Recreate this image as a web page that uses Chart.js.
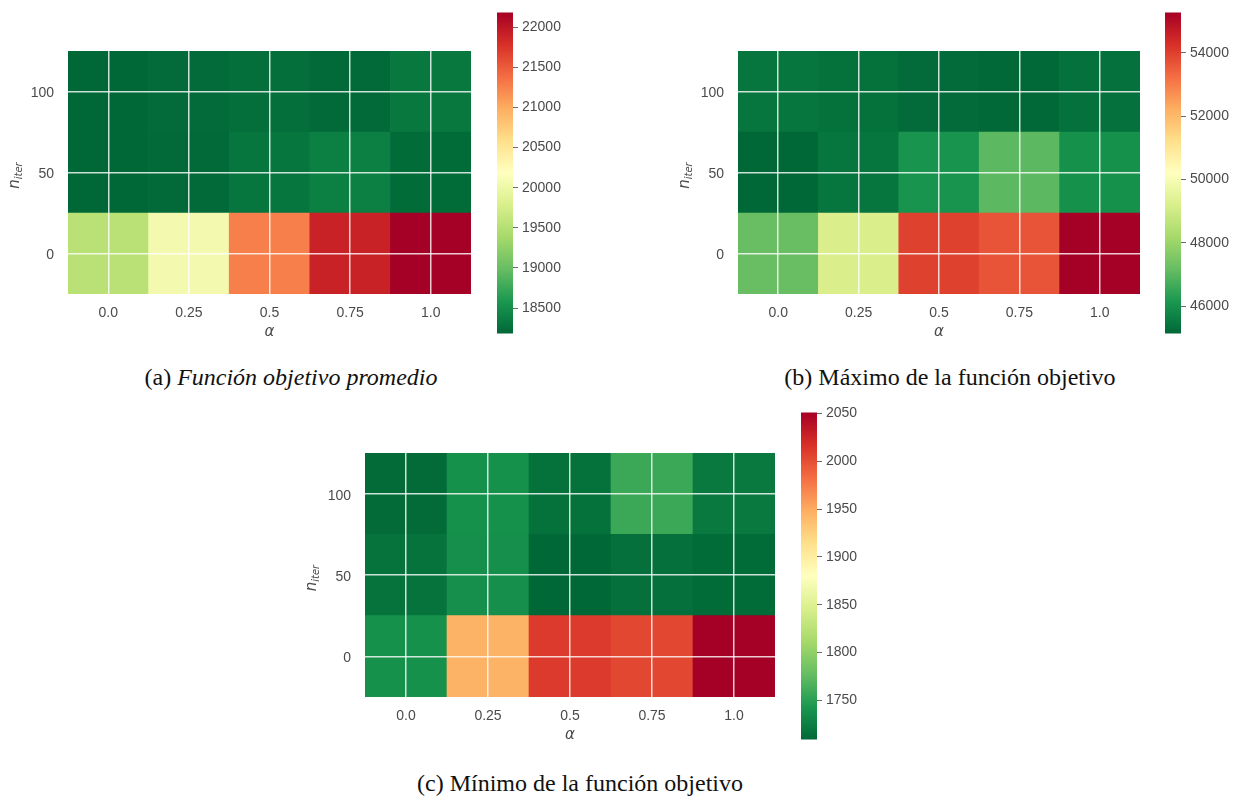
<!DOCTYPE html>
<html>
<head>
<meta charset="utf-8">
<script src="https://cdn.jsdelivr.net/npm/chart.js@4.4.1/dist/chart.umd.min.js"></script>
<style>
  body { margin: 0; background: #fff; width: 1241px; height: 796px; position: relative; overflow: hidden; }
  canvas { position: absolute; }
  .cap { position: absolute; font-family: "Liberation Serif", "Times New Roman", serif; font-size: 24px;
         line-height: 26px; color: #111; white-space: nowrap; transform: translateX(-50%); }
</style>
</head>
<body>
<canvas id="hmAvg" width="490" height="350" style="left:0;top:0"></canvas>
<canvas id="cbAvg" width="90" height="346" style="left:497px;top:0"></canvas>
<canvas id="hmMax" width="490" height="350" style="left:670px;top:0"></canvas>
<canvas id="cbMax" width="76" height="346" style="left:1165px;top:0"></canvas>
<canvas id="hmMin" width="490" height="350" style="left:297px;top:400px"></canvas>
<canvas id="cbMin" width="90" height="352" style="left:801px;top:400px"></canvas>

<div class="cap" style="left:291px;top:364px">(a) <i>Función objetivo promedio</i></div>
<div class="cap" style="left:950px;top:364px">(b) Máximo de la función objetivo</div>
<div class="cap" style="left:580px;top:770px">(c) Mínimo de la función objetivo</div>

<script>
// Categories
const alphaLabels = ['0.0', '0.25', '0.5', '0.75', '1.0'];
const iterLabels = ['0', '50', '100'];

// Average objective value, one array per n_iter row (alpha = 0 .. 1)
const avgIter0   = [19530, 20060, 21270, 21900, 22184];
const avgIter50  = [18182, 18200, 18290, 18370, 18215];
const avgIter100 = [18185, 18210, 18240, 18200, 18315];

// Maximum objective value
const maxIter0   = [47200, 49210, 53975, 53660, 55271];
const maxIter50  = [45132, 45400, 46060, 47040, 46000];
const maxIter100 = [45420, 45335, 45200, 45150, 45330];

// Minimum objective value
const minIter0   = [1738, 1945, 2011, 2004, 2051];
const minIter50  = [1717, 1737, 1709, 1715, 1712];
const minIter100 = [1711, 1738, 1716, 1758, 1721];

// Colorbar tick labels
const cbTicksAvg = [18500, 19000, 19500, 20000, 20500, 21000, 21500, 22000];
const cbTicksMax = [46000, 48000, 50000, 52000, 54000];
const cbTicksMin = [1750, 1800, 1850, 1900, 1950, 2000, 2050];

// RdYlGn reversed: green (low) -> yellow -> red (high)
const RDYLGN_R = ['#006837', '#1a9850', '#66bd63', '#a6d96a', '#d9ef8b', '#ffffbf',
                  '#fee08b', '#fdae61', '#f46d43', '#d73027', '#a50026'];
const hex = h => [1, 3, 5].map(i => parseInt(h.slice(i, i + 2), 16));
function cmap(t) {
  t = Math.max(0, Math.min(1, t));
  const p = t * (RDYLGN_R.length - 1);
  const i = Math.min(Math.floor(p), RDYLGN_R.length - 2);
  const f = p - i;
  const a = hex(RDYLGN_R[i]), b = hex(RDYLGN_R[i + 1]);
  const c = a.map((v, k) => Math.round(v + (b[k] - v) * f));
  return `rgb(${c[0]},${c[1]},${c[2]})`;
}

const TEXT = '#4a4a4a';
const TICK_FONT = { family: '"Liberation Sans", Arial, sans-serif', size: 14 };
const GRID = 'rgba(255,255,255,0.8)';

// Axis titles: italic alpha below, rotated n_iter (with subscript) on the left
const axisTitles = {
  id: 'axisTitles',
  afterDraw(chart) {
    const { ctx, chartArea: a } = chart;
    ctx.save();
    ctx.fillStyle = TEXT;
    ctx.font = 'italic 15px "DejaVu Sans", sans-serif';
    ctx.textAlign = 'center';
    ctx.textBaseline = 'middle';
    ctx.fillText('α', (a.left + a.right) / 2, a.bottom + 38);

    ctx.translate(a.left - 54, (a.top + a.bottom) / 2 + 3);
    ctx.rotate(-Math.PI / 2);
    const nFont = 'italic 15px "DejaVu Sans", sans-serif';
    const sFont = 'italic 10px "DejaVu Sans", sans-serif';
    ctx.font = nFont; const wn = ctx.measureText('n').width;
    ctx.font = sFont; const ws = ctx.measureText('iter').width;
    const x0 = -(wn + ws) / 2;
    ctx.textAlign = 'left';
    ctx.textBaseline = 'alphabetic';
    ctx.font = nFont; ctx.fillText('n', x0, 5);
    ctx.font = sFont; ctx.fillText('iter', x0 + wn, 8);
    ctx.restore();
  }
};

function heatmap(id, rows, box) {
  const all = rows.flat();
  const vmin = Math.min(...all), vmax = Math.max(...all);
  return new Chart(document.getElementById(id), {
    type: 'bar',
    data: {
      labels: alphaLabels,
      datasets: rows.map((vals, r) => ({
        data: vals.map(() => [r - 0.5, r + 0.5]),
        backgroundColor: vals.map(v => cmap((v - vmin) / (vmax - vmin))),
        borderWidth: 0,
        barPercentage: 1,
        categoryPercentage: 1,
        grouped: false
      }))
    },
    options: {
      responsive: false,
      animation: false,
      events: [],
      layout: { padding: { top: box.top, right: box.right, left: 0, bottom: 0 } },
      plugins: { legend: { display: false }, tooltip: { enabled: false } },
      scales: {
        x: {
          grid: { z: 1, offset: false, color: GRID, lineWidth: 1.5, drawTicks: false },
          border: { display: false },
          ticks: { font: TICK_FONT, color: TEXT, padding: 11, maxRotation: 0, autoSkip: false },
          afterFit: s => { s.height = box.xh; }
        },
        y: {
          min: -0.5,
          max: 2.5,
          grid: { z: 1, color: GRID, lineWidth: 1.5, drawTicks: false },
          border: { display: false },
          afterBuildTicks: s => { s.ticks = iterLabels.map((_, i) => ({ value: i })); },
          ticks: { font: TICK_FONT, color: TEXT, padding: 14, labelOffset: 2, callback: v => iterLabels[v] },
          afterFit: s => { s.width = box.yw; }
        }
      }
    },
    plugins: [axisTitles]
  });
}

function colorbar(id, rows, ticks, box) {
  const all = rows.flat();
  const vmin = Math.min(...all), vmax = Math.max(...all);
  const gradient = ctx => {
    const chart = ctx.chart, a = chart.chartArea;
    if (!a) return RDYLGN_R[0];
    const g = chart.ctx.createLinearGradient(0, a.bottom, 0, a.top);
    RDYLGN_R.forEach((c, i) => g.addColorStop(i / (RDYLGN_R.length - 1), c));
    return g;
  };
  return new Chart(document.getElementById(id), {
    type: 'bar',
    data: {
      labels: [''],
      datasets: [{ data: [[vmin, vmax]], backgroundColor: gradient, borderWidth: 0,
                   barPercentage: 1, categoryPercentage: 1 }]
    },
    options: {
      responsive: false,
      animation: false,
      events: [],
      layout: { padding: { top: box.top, bottom: box.bottom, left: 0, right: 0 } },
      plugins: { legend: { display: false }, tooltip: { enabled: false } },
      scales: {
        x: { display: false },
        y: {
          position: 'right',
          min: vmin,
          max: vmax,
          afterBuildTicks: s => { s.ticks = ticks.map(v => ({ value: v })); },
          grid: { drawOnChartArea: false, drawTicks: true, tickLength: 5, color: '#6a6a6a', lineWidth: 1 },
          border: { display: false },
          ticks: { font: TICK_FONT, color: TEXT, padding: 4, callback: v => String(v) },
          afterFit: s => { s.width = box.w; }
        }
      }
    }
  });
}

const rowsAvg = [avgIter0, avgIter50, avgIter100];
const rowsMax = [maxIter0, maxIter50, maxIter100];
const rowsMin = [minIter0, minIter50, minIter100];

heatmap('hmAvg', rowsAvg, { top: 51, right: 19, yw: 68, xh: 56 });
colorbar('cbAvg', rowsAvg, cbTicksAvg, { top: 9, bottom: 10, w: 74 });

heatmap('hmMax', rowsMax, { top: 51, right: 20, yw: 68, xh: 56 });
colorbar('cbMax', rowsMax, cbTicksMax, { top: 9, bottom: 10, w: 60 });

heatmap('hmMin', rowsMin, { top: 53, right: 12, yw: 68, xh: 53 });
colorbar('cbMin', rowsMin, cbTicksMin, { top: 10, bottom: 10, w: 74 });
</script>
</body>
</html>
